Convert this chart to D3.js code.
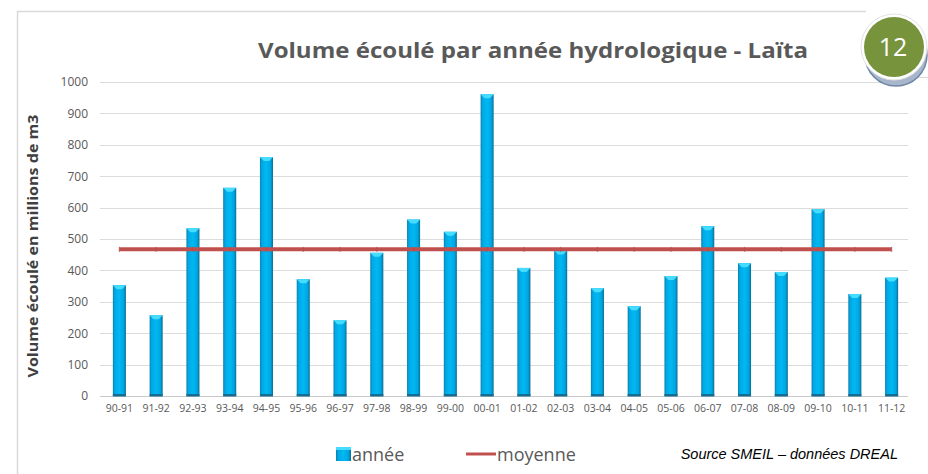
<!DOCTYPE html>
<html>
<head>
<meta charset="utf-8">
<script src="https://cdn.jsdelivr.net/npm/d3@7"></script>
<style>
  body { margin: 0; background: #fff; }
  svg { display: block; font-family: "Open Sans", sans-serif; }
</style>
</head>
<body>
<svg id="chart" width="928" height="474"></svg>
<script>
// données
var annees = ["90-91","91-92","92-93","93-94","94-95","95-96","96-97","97-98","98-99","99-00","00-01",
              "01-02","02-03","03-04","04-05","05-06","06-07","07-08","08-09","09-10","10-11","11-12"];
var volumes = [353,257,534,663,761,372,241,456,562,523,961,408,463,343,286,382,541,423,395,595,325,377];
var moyenne = [467,467,467,467,467,467,467,467,467,467,467,467,467,467,467,467,467,467,467,467,467,467];
var yTicks = [0,100,200,300,400,500,600,700,800,900,1000];

var svg = d3.select("#chart");

// cadre
svg.append("path")
  .attr("d", "M17.5,474 L17.5,11.5 L866,11.5")
  .attr("fill", "none").attr("stroke", "#d9d9d9").attr("stroke-width", 1.5);
svg.append("line").attr("x1", 918).attr("x2", 928).attr("y1", 77.5).attr("y2", 77.5)
  .attr("stroke", "#d9d9d9");

// dégradé des barres
var defs = svg.append("defs");
var g1 = defs.append("linearGradient").attr("id", "barGrad");
g1.append("stop").attr("offset", "0%").attr("stop-color", "#0b7fae");
g1.append("stop").attr("offset", "15%").attr("stop-color", "#00a9e4");
g1.append("stop").attr("offset", "50%").attr("stop-color", "#00b8f4");
g1.append("stop").attr("offset", "82%").attr("stop-color", "#00a6df");
g1.append("stop").attr("offset", "100%").attr("stop-color", "#0b6d96");

var x = d3.scaleBand().domain(annees).range([101, 910]).paddingInner(0.645).paddingOuter(0.3225);
var y = d3.scaleLinear().domain([0, 1000]).range([396, 82]);

// grille
svg.append("g").selectAll("line").data(yTicks).enter().append("line")
  .attr("x1", 100).attr("x2", 908)
  .attr("y1", function(d){ return Math.round(y(d)) + 0.5; })
  .attr("y2", function(d){ return Math.round(y(d)) + 0.5; })
  .attr("stroke", function(d){ return d === 0 ? "#c8c8c8" : "#dcdcdc"; })
  .attr("stroke-width", 1.2);

// axe Y
var yAxis = svg.append("g").attr("transform", "translate(88,0)")
  .call(d3.axisLeft(y).tickValues(yTicks).tickFormat(d3.format("d")).tickSize(0).tickPadding(0));
yAxis.select(".domain").remove();
yAxis.selectAll("text").attr("fill", "#595959").style("font-size", "12px")
  .style("font-family", "'Open Sans', sans-serif");

// axe X
var xAxis = svg.append("g").attr("transform", "translate(0,402)")
  .call(d3.axisBottom(x).tickSize(0).tickPadding(3));
xAxis.select(".domain").remove();
xAxis.selectAll("text").attr("fill", "#595959").style("font-size", "10.5px")
  .style("font-family", "'Open Sans', sans-serif");

// barres
var bars = svg.append("g").selectAll("g").data(volumes).enter().append("g");
bars.append("rect")
  .attr("x", function(d, i){ return x(annees[i]); })
  .attr("y", function(d){ return y(d); })
  .attr("width", x.bandwidth())
  .attr("height", function(d){ return y(0) - y(d); })
  .attr("fill", "url(#barGrad)");
// biseau du haut
bars.append("path")
  .attr("d", function(d, i){
    var x0 = x(annees[i]), w = x.bandwidth(), t = y(d);
    return "M" + x0 + "," + t + " L" + (x0 + w) + "," + t + " L" + (x0 + w * 0.7) + "," + (t + 4) +
           " L" + (x0 + w * 0.3) + "," + (t + 4) + "Z";
  })
  .attr("fill", "#45dcff");
// bande sombre en bas
bars.append("rect")
  .attr("x", function(d, i){ return x(annees[i]); })
  .attr("y", y(0) - 2)
  .attr("width", x.bandwidth())
  .attr("height", 2.5)
  .attr("fill", "#176c92");

// moyenne
var cx = function(d, i){ return x(annees[i]) + x.bandwidth() / 2; };
svg.append("path").datum(moyenne)
  .attr("d", d3.line().x(cx).y(function(d){ return y(d); }))
  .attr("fill", "none").attr("stroke", "#c0504d").attr("stroke-width", 4);
svg.append("g").selectAll("rect").data(moyenne).enter().append("rect")
  .attr("x", function(d, i){ return cx(d, i) - 0.6; })
  .attr("y", function(d){ return y(d) - 2.5; })
  .attr("width", 1.2).attr("height", 5)
  .attr("fill", "#b44a47").attr("opacity", 0.7);

// titre
svg.append("text").attr("x", 533).attr("y", 58).attr("text-anchor", "middle")
  .attr("fill", "#595959").style("font-size", "22px").style("font-weight", "bold")
  .attr("textLength", 550).attr("lengthAdjust", "spacingAndGlyphs")
  .text("Volume écoulé par année hydrologique - Laïta");

// titre axe Y
svg.append("text").attr("transform", "translate(38,246) rotate(-90)")
  .attr("text-anchor", "middle").attr("fill", "#404040")
  .style("font-size", "14px").style("font-weight", "bold")
  .attr("textLength", 263).attr("lengthAdjust", "spacingAndGlyphs")
  .text("Volume écoulé en millions de m3");

// pastille
var badge = svg.append("g");
badge.append("circle").attr("cx", 896).attr("cy", 55).attr("r", 31)
  .attr("fill", "#a7b6cb").attr("stroke", "#6f86a6").attr("stroke-width", 1.5);
badge.append("circle").attr("cx", 894).attr("cy", 47).attr("r", 33)
  .attr("fill", "#ffffff").attr("stroke", "#e2e2e2").attr("stroke-width", 1);
badge.append("circle").attr("cx", 894).attr("cy", 47).attr("r", 30)
  .attr("fill", "#77933c");
badge.append("text").attr("x", 893).attr("y", 56).attr("text-anchor", "middle")
  .attr("fill", "#ffffff").style("font-size", "25px").text("12");

// légende
var legend = svg.append("g");
legend.append("rect").attr("x", 336).attr("y", 447).attr("width", 15).attr("height", 14)
  .attr("fill", "url(#barGrad)");
legend.append("rect").attr("x", 336).attr("y", 447).attr("width", 15).attr("height", 3)
  .attr("fill", "#45dcff");
legend.append("text").attr("x", 352).attr("y", 461).attr("fill", "#595959")
  .style("font-size", "18px").text("année");
legend.append("line").attr("x1", 466).attr("x2", 496).attr("y1", 454).attr("y2", 454)
  .attr("stroke", "#c0504d").attr("stroke-width", 3);
legend.append("text").attr("x", 497).attr("y", 461).attr("fill", "#595959")
  .style("font-size", "18px").text("moyenne");

svg.append("text").attr("x", 898).attr("y", 459).attr("text-anchor", "end")
  .attr("fill", "#000").style("font-size", "14.5px").style("font-style", "italic")
  .style("font-family", "'Liberation Sans', Arial, sans-serif")
  .text("Source SMEIL – données DREAL");
</script>
</body>
</html>
